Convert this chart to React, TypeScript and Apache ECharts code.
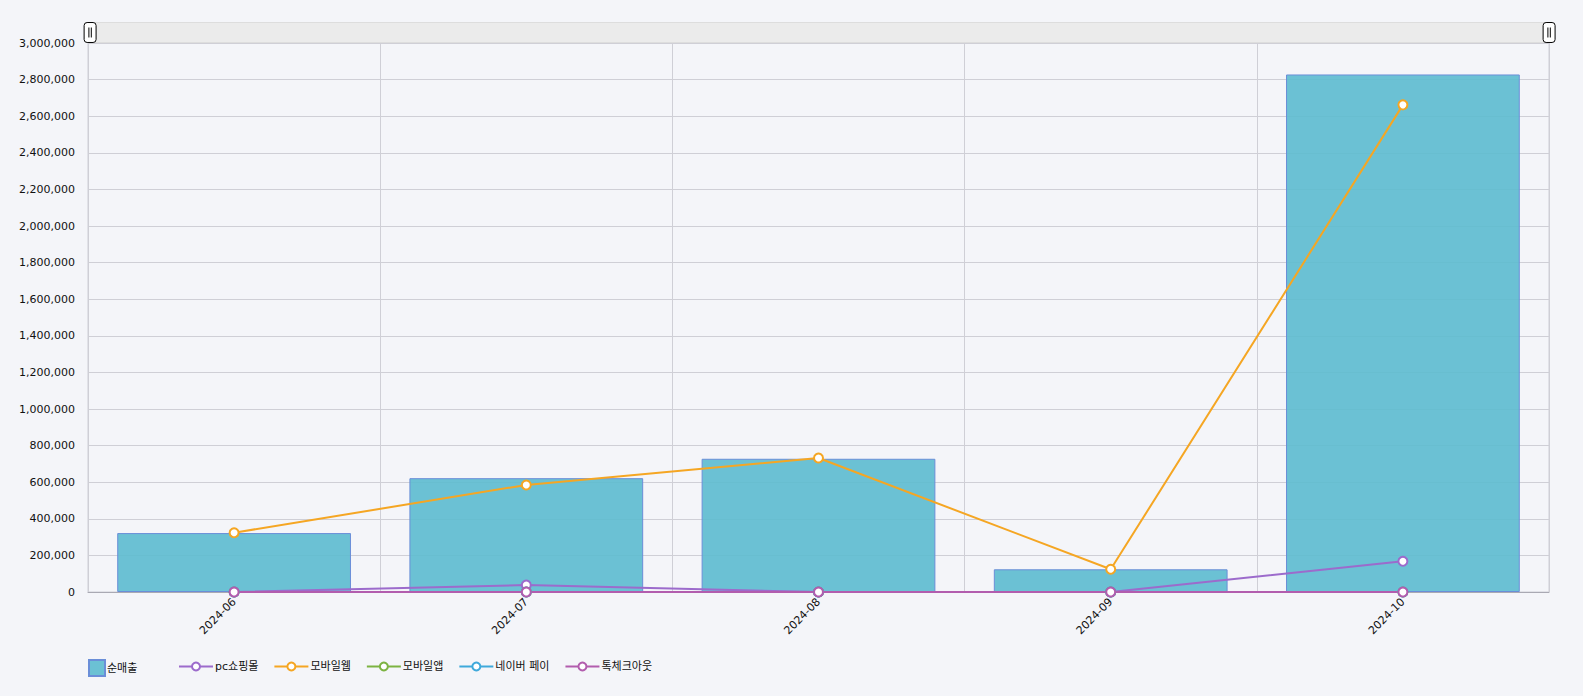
import React, { useEffect, useRef } from "react";
import * as echarts from "echarts";

const categories = ["2024-06", "2024-07", "2024-08", "2024-09", "2024-10"];
const netSales = [322000, 622000, 728000, 124000, 2828000];
const pcShop = [0, 38000, 0, 0, 168000];
const mobileWeb = [324000, 585000, 732000, 124000, 2662000];
const mobileApp = [0, 0, 0, 0, 0];
const naverPay = [0, 0, 0, 0, 0];
const talkCheckout = [0, 0, 0, 0, 0];

const lineNames = ["pc쇼핑몰", "모바일웹", "모바일앱", "네이버 페이", "톡체크아웃"];
const lineColors = ["#9C6BCC", "#F5A623", "#7CB342", "#3FA9DB", "#B25DAE"];
const lineData = [pcShop, mobileWeb, mobileApp, naverPay, talkCheckout];

const FONT = "'DejaVu Sans', 'Noto Sans CJK KR', sans-serif";

export default function App() {
  const ref = useRef<HTMLDivElement>(null);
  useEffect(() => {
    if (!ref.current) return;
    const chart = echarts.init(ref.current, undefined, { renderer: "svg" });
    const handle =
      "path://M0,3 Q0,0 3,0 L9,0 Q12,0 12,3 L12,17 Q12,20 9,20 L3,20 Q0,20 0,17 Z M4.8,5 L4.8,15 M7.2,5 L7.2,15";
    chart.setOption({
      animation: false,
      backgroundColor: "#F4F5F9",
      textStyle: { fontFamily: FONT },
      grid: {
        left: 88,
        right: 34,
        top: 43,
        bottom: 104,
        show: true,
        borderColor: "#CFCFD6",
        borderWidth: 1,
      },
      dataZoom: [
        {
          type: "slider",
          xAxisIndex: 0,
          top: 22,
          height: 21,
          left: 88,
          right: 34,
          start: 0,
          end: 100,
          showDetail: false,
          brushSelect: false,
          showDataShadow: false,
          backgroundColor: "#ECECEC",
          borderColor: "#DDDDDD",
          fillerColor: "rgba(236,236,236,0.2)",
          moveHandleSize: 0,
          handleIcon: handle,
          handleSize: "95%",
          handleStyle: { color: "#FFFFFF", borderColor: "#000000", borderWidth: 1 },
          emphasis: { handleStyle: { color: "#FFFFFF", borderColor: "#000000" } },
        },
      ],
      legend: [
        {
          data: [{ name: "순매출", icon: "rect" }],
          left: 88,
          top: 659,
          padding: 0,
          itemWidth: 16,
          itemHeight: 16,
          textStyle: { fontSize: 11, color: "#111", fontFamily: FONT, padding: [0, 0, 0, -3] },
        },
        {
          data: lineNames,
          left: 178,
          top: 661,
          padding: 0,
          itemWidth: 34,
          itemHeight: 10,
          itemGap: 15,
          textStyle: { fontSize: 11, color: "#111", fontFamily: FONT, padding: [0, 0, 0, -3] },
        },
      ],
      xAxis: {
        type: "category",
        data: categories,
        boundaryGap: true,
        axisLine: { show: true, lineStyle: { color: "#A9A9B3" } },
        axisTick: { show: false },
        splitLine: { show: true, lineStyle: { color: "#CFCFD6" } },
        axisLabel: {
          rotate: 45,
          fontSize: 11,
          color: "#111",
          margin: 8,
          fontFamily: FONT,
        },
      },
      yAxis: {
        type: "value",
        min: 0,
        max: 3000000,
        interval: 200000,
        axisLine: { show: false },
        axisTick: { show: false },
        splitLine: { show: true, lineStyle: { color: "#CFCFD6" } },
        axisLabel: {
          fontSize: 11,
          color: "#111",
          margin: 13,
          fontFamily: FONT,
          formatter: (v: number) => v.toLocaleString("en-US"),
        },
      },
      series: [
        {
          name: "순매출",
          type: "bar",
          data: netSales,
          barWidth: "80%",
          itemStyle: {
            color: "rgba(92,187,207,0.9)",
            borderColor: "#6A8ED8",
            borderWidth: 1,
          },
        },
        ...lineNames.map((n, i) => ({
          name: n,
          type: "line",
          data: lineData[i],
          symbol: "circle",
          symbolSize: 9,
          showAllSymbol: true,
          lineStyle: { width: 2, color: lineColors[i] },
          itemStyle: { color: "#FFFFFF", borderColor: lineColors[i], borderWidth: 2 },
          color: lineColors[i],
        })),
      ],
    });
    return () => chart.dispose();
  }, []);
  return <div ref={ref} style={{ width: 1583, height: 696, position: "absolute", left: 0, top: 0 }} />;
}
